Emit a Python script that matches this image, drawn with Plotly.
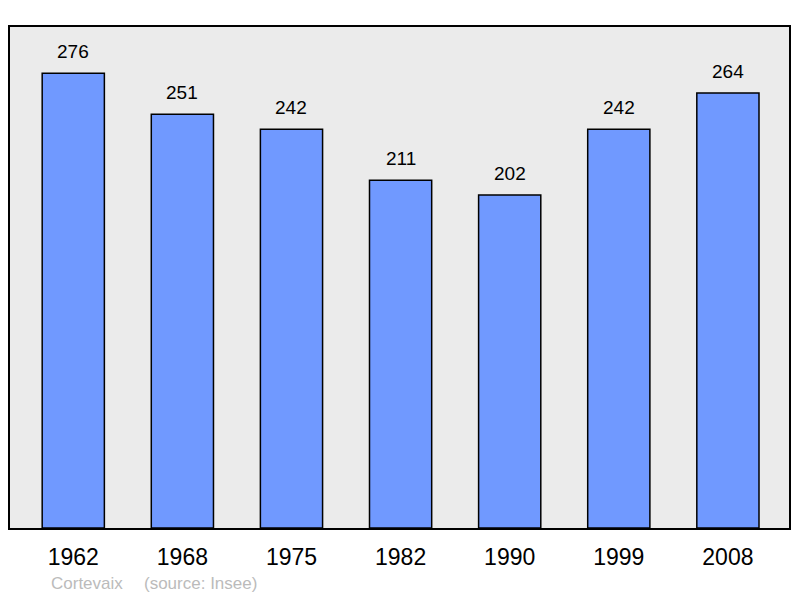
import plotly.graph_objects as go

# population by census year
years = ["1962", "1968", "1975", "1982", "1990", "1999", "2008"]
population = [276, 251, 242, 211, 202, 242, 264]
place = "Cortevaix"
source = "(source: Insee)"

fig = go.Figure()

fig.add_trace(go.Bar(
    x=years,
    y=population,
    width=0.57,
    marker=dict(color="#7099FF", line=dict(color="black", width=1.5)),
    hoverinfo="skip",
))

# value labels above bars (category index, since "1962" would be read as a number)
for i, val in enumerate(population):
    fig.add_annotation(
        x=i, y=val, text=str(val), showarrow=False,
        yanchor="bottom", yshift=9,
        font=dict(family="Liberation Sans, Arial", size=19, color="black"),
    )

# footer note
fig.add_annotation(
    xref="paper", yref="paper", x=(49 - 10) / 781, y=-0.11,
    xanchor="left", yanchor="middle", text=place, showarrow=False,
    font=dict(family="Liberation Sans, Arial", size=17, color="#BBBBBB"),
)
fig.add_annotation(
    xref="paper", yref="paper", x=(142 - 10) / 781, y=-0.11,
    xanchor="left", yanchor="middle", text=source, showarrow=False,
    font=dict(family="Liberation Sans, Arial", size=17, color="#BBBBBB"),
)

fig.update_xaxes(
    type="category", range=[-0.58, 6.56],
    showline=True, mirror=True, linecolor="black", linewidth=2,
    showgrid=False, ticks="outside", ticklen=7, tickcolor="rgba(0,0,0,0)",
    tickfont=dict(family="Liberation Sans, Arial", size=23, color="black"),
)
fig.update_yaxes(
    range=[0, 304], showline=True, mirror=True, linecolor="black", linewidth=2,
    showgrid=False, showticklabels=False, zeroline=False,
)

fig.update_layout(
    width=800, height=598,
    margin=dict(l=10, r=9, t=27, b=70),
    plot_bgcolor="#EBEBEB", paper_bgcolor="white",
    showlegend=False,
)

fig.write_html(
    "out.html",
    config={"displayModeBar": False},
    post_script="document.body.style.margin='0';document.body.style.overflow='hidden';",
)
